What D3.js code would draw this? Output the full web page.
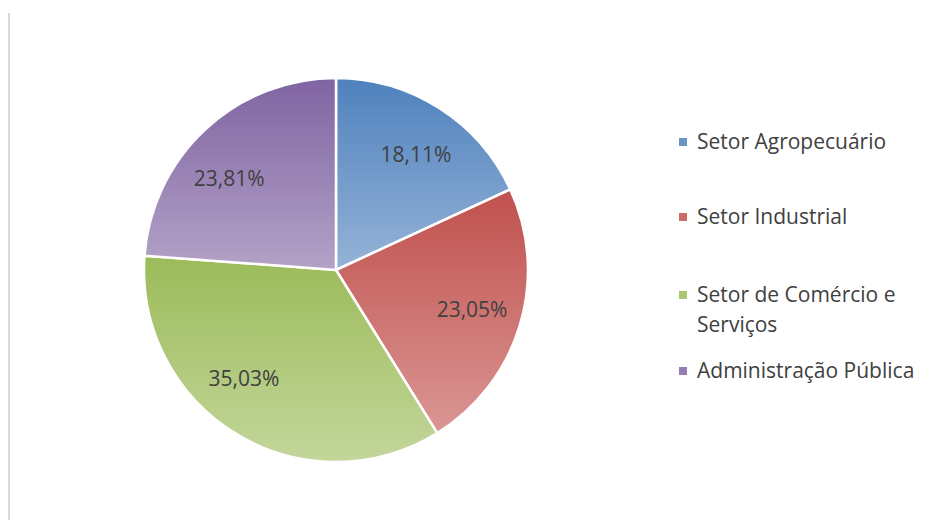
<!DOCTYPE html>
<html>
<head>
<meta charset="utf-8">
<script src="https://cdn.jsdelivr.net/npm/d3@7"></script>
<style>
  body { margin: 0; background: #fff; }
  svg { font-family: "Open Sans", sans-serif; }
</style>
</head>
<body>
<div id="chart"></div>
<script>
// data
var categories = ["Setor Agropecuário", "Setor Industrial", "Setor de Comércio e Serviços", "Administração Pública"];
var values = [18.11, 23.05, 35.03, 23.81];
var valueLabels = ["18,11%", "23,05%", "35,03%", "23,81%"];
var legendLines = [["Setor Agropecuário"], ["Setor Industrial"], ["Setor de Comércio e", "Serviços"], ["Administração Pública"]];

// gradient colours, top (dark) -> bottom (light)
var darkColors = ["#4f81bd", "#c0504d", "#9bbb59", "#8064a2"];
var lightColors = ["#95b3d7", "#da9694", "#c3d69b", "#b3a2c7"];

var width = 937, height = 520;
var cx = 336, cy = 270, radius = 192;
// Excel "best fit" moves some labels off the centroid a bit
var labelNudge = [[4, 3], [1, -1], [-19, -12], [-11, 12]];

var svg = d3.select("#chart")
    .append("svg")
    .attr("width", width)
    .attr("height", height);

// thin frame line on the left
svg.append("line")
    .attr("x1", 9).attr("x2", 9)
    .attr("y1", 13).attr("y2", height)
    .attr("stroke", "#d9d9d9")
    .attr("stroke-width", 2);

var defs = svg.append("defs");
categories.forEach(function (c, i) {
    var g = defs.append("linearGradient")
        .attr("id", "grad" + i)
        .attr("x1", 0).attr("y1", 0)
        .attr("x2", 0).attr("y2", 1);
    g.append("stop").attr("offset", "0%").attr("stop-color", darkColors[i]);
    g.append("stop").attr("offset", "100%").attr("stop-color", lightColors[i]);
});

var pie = d3.pie().sort(null).value(function (d) { return d; });
var arc = d3.arc().innerRadius(0).outerRadius(radius);
var labelArc = d3.arc().innerRadius(141).outerRadius(141);

var g = svg.append("g")
    .attr("transform", "translate(" + cx + "," + cy + ")");

var arcs = pie(values);

g.selectAll(".slice")
    .data(arcs)
    .enter().append("path")
    .attr("class", "slice")
    .attr("d", arc)
    .attr("fill", function (d, i) { return "url(#grad" + i + ")"; })
    .attr("stroke", "#fff")
    .attr("stroke-width", 2.5)
    .attr("stroke-linejoin", "round");

g.selectAll(".lbl")
    .data(arcs)
    .enter().append("text")
    .attr("class", "lbl")
    .attr("transform", function (d, i) {
        var c = labelArc.centroid(d);
        return "translate(" + (c[0] + labelNudge[i][0]) + "," + (c[1] + labelNudge[i][1]) + ")";
    })
    .attr("text-anchor", "middle")
    .attr("dy", "0.35em")
    .attr("fill", "#404040")
    .attr("font-size", 21)
    .text(function (d, i) { return valueLabels[i]; });

// legend
var legendY = [142, 217, 295, 371];
var legend = svg.append("g");
legendLines.forEach(function (lines, i) {
    legend.append("rect")
        .attr("x", 679).attr("y", legendY[i] - 4)
        .attr("width", 8).attr("height", 8)
        .attr("fill", d3.interpolateRgb(darkColors[i], lightColors[i])(0.4));
    var t = legend.append("text")
        .attr("x", 697).attr("y", legendY[i])
        .attr("fill", "#404040")
        .attr("font-size", 21);
    lines.forEach(function (s, j) {
        t.append("tspan").attr("x", 697).attr("dy", j === 0 ? "0.35em" : 30).text(s);
    });
});
</script>
</body>
</html>
